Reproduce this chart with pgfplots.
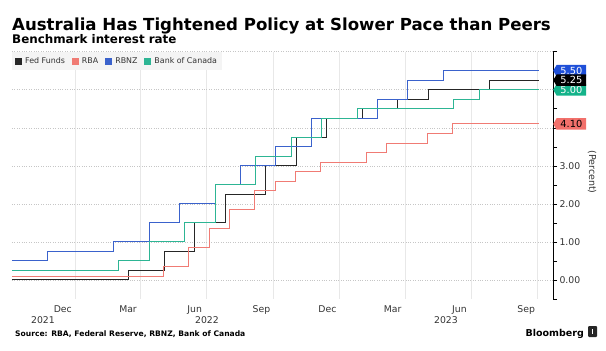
\documentclass[border=0pt]{standalone}
\usepackage{pgfplots}
\pgfplotsset{compat=1.18}
\usepackage{fontspec}
\setmainfont{DejaVu Sans}
\usetikzlibrary{shapes.symbols}
\definecolor{fedc}{HTML}{262626}
\definecolor{rbac}{HTML}{F07B74}
\definecolor{rbnzc}{HTML}{3A62CC}
\definecolor{bocc}{HTML}{2DB594}
\definecolor{fedt}{HTML}{000000}
\definecolor{rbat}{HTML}{F2706B}
\definecolor{rbnzt}{HTML}{1E4FD8}
\definecolor{boct}{HTML}{14B38A}
\definecolor{txt}{HTML}{333333}
\begin{document}
\begin{tikzpicture}[x=1pt,y=1pt]
\path[use as bounding box] (0,0) rectangle (606,-351);
\node[anchor=base west, inner sep=0pt] at (12,-30) {\fontsize{16.6}{18}\selectfont\bfseries Australia Has Tightened Policy at Slower Pace than Peers};
\node[anchor=base west, inner sep=0pt] at (12,-43) {\fontsize{11.9}{13}\selectfont\bfseries Benchmark interest rate};
\begin{axis}[
  at={(12pt,-299pt)}, anchor=south west,
  scale only axis, width=541pt, height=247.3pt,
  xmin=-87, xmax=659, ymin=-0.5, ymax=6,
  clip=false,
  axis line style={draw=none},
  xtick={-17,73,165,257,348,438,530,622},
  xticklabels={Dec,Mar,Jun,Sep,Dec,Mar,Jun,Sep},
  xtick style={draw=none},
  minor xtick={0,90,181,273,365,455,546,638},
  minor x tick style={draw=none},
  xminorgrids=true,
  minor grid style={gray!18, line width=0.7pt},
  ytick={0,1,2,3,4,5,6},
  yticklabels={0.00,1.00,2.00,3.00,{},{},{}},
  minor ytick={-0.5,0.5,1.5,2.5,3.5,4.5,5.5},
  ymajorgrids=true,
  major grid style={gray!45, dotted, line width=0.6pt},
  ytick pos=right, yticklabel pos=right,
  tick align=outside,
  major tick length=4pt, minor tick length=4pt,
  ytick style={black, line width=0.6pt},
  minor y tick style={black, line width=0.6pt},
  tick label style={font=\fontsize{9.3}{10}\selectfont, text=txt},
  xticklabel style={yshift=1pt},
  yticklabel style={xshift=-1pt},
  legend columns=4,
  legend style={at={(0,1)}, anchor=north west, fill=gray!9, draw=none,
    inner xsep=3pt, inner ysep=3.5pt,
    font=\fontsize{7.9}{9}\selectfont, text=txt,
    /tikz/every odd column/.style={column sep=1pt},
    /tikz/every even column/.style={column sep=5pt}},
  legend image code/.code={\fill (0pt,-3pt) rectangle (6pt,3pt);},
  every axis plot/.append style={line width=1pt, const plot mark left, no markers},
]
\addplot[color=fedc] coordinates {(-87,0) (74,0.25) (123,0.75) (165,1.5) (207,2.25) (263,3.0) (305,3.75) (346,4.25) (396,4.5) (445,4.75) (487,5.0) (571,5.25) (640,5.25)};
\addlegendentry{Fed Funds}
\addplot[color=rbac] coordinates {(-87,0.10) (122,0.35) (157,0.85) (185,1.35) (213,1.85) (248,2.35) (276,2.60) (304,2.85) (339,3.10) (402,3.35) (430,3.60) (486,3.85) (521,4.10) (640,4.10)};
\addlegendentry{RBA}
\addplot[color=rbnzc] coordinates {(-87,0.5) (-38,0.75) (53,1.0) (102,1.5) (144,2.0) (193,2.5) (228,3.0) (277,3.5) (326,4.25) (417,4.75) (459,5.25) (508,5.5) (640,5.5)};
\addlegendentry{RBNZ}
\addplot[color=bocc] coordinates {(-87,0.25) (60,0.5) (102,1.0) (151,1.5) (193,2.5) (249,3.25) (298,3.75) (340,4.25) (389,4.5) (522,4.75) (557,5.0) (640,5.0)};
\addlegendentry{Bank of Canada}
\draw[black, line width=0.6pt] (rel axis cs:1,0) -- (rel axis cs:1,1);
\coordinate (tnz) at (axis cs:659,5.5);
\coordinate (tfed) at (axis cs:659,5.25);
\coordinate (tboc) at (axis cs:659,5.0);
\coordinate (trba) at (axis cs:659,4.1);
\end{axis}
\tikzset{tag/.style={signal, signal to=west, signal pointer angle=120, anchor=west,
  minimum width=33pt, minimum height=11.5pt, inner xsep=2pt, inner ysep=0pt,
  font=\fontsize{9.8}{10}\selectfont}}
\node[tag, fill=rbnzt, text=white] at (tnz) {5.50};
\node[tag, fill=boct, text=white] at (tboc) {5.00};
\node[tag, fill=rbat, text=black] at (trba) {4.10};
\node[tag, fill=fedt, text=white] at (tfed) {5.25};
\node[rotate=-90, font=\fontsize{9.5}{10}\selectfont, text=txt] at (592,-172) {(Percent)};
\node[font=\fontsize{9.3}{10}\selectfont, text=txt] at (43,-320) {2021};
\node[font=\fontsize{9.3}{10}\selectfont, text=txt] at (207,-320) {2022};
\node[font=\fontsize{9.3}{10}\selectfont, text=txt] at (446,-320) {2023};
\node[anchor=base west, inner sep=0pt] at (15,-336.5) {\fontsize{7.6}{9}\selectfont\bfseries Source: RBA, Federal Reserve, RBNZ, Bank of Canada};
\node[anchor=base east, inner sep=0pt] at (584,-336.5) {\fontsize{9.5}{11}\selectfont\bfseries Bloomberg};
\fill[black!85, rounded corners=1pt] (588,-326) rectangle (597,-337);
\fill[white] (592.2,-328.5) rectangle (593,-334);
\end{tikzpicture}
\end{document}
